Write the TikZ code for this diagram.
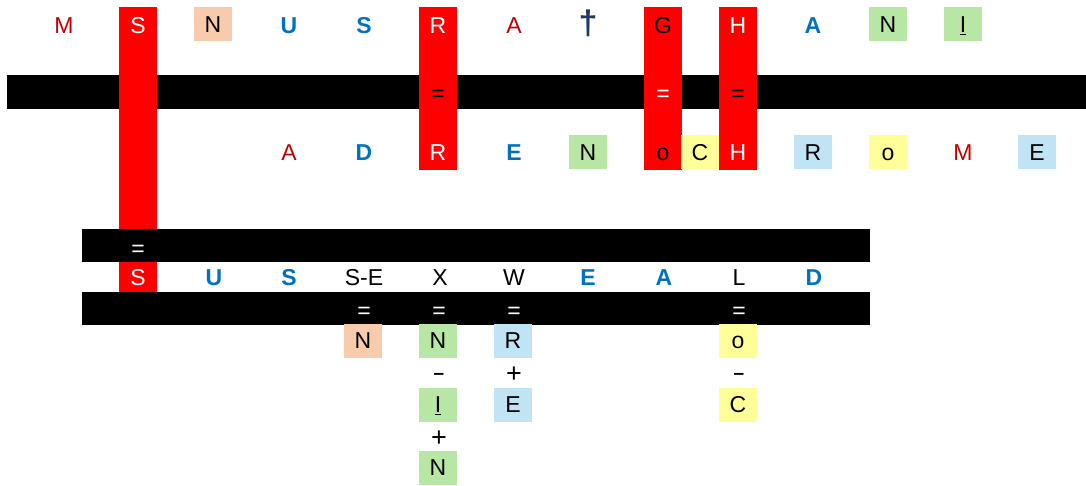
\documentclass[tikz,border=0pt]{standalone}
\usepackage{fontspec}
\setmainfont{Liberation Sans}
\definecolor{redcol}{HTML}{FF0000}
\definecolor{darkred}{HTML}{C00000}
\definecolor{blu}{HTML}{0070C0}
\definecolor{navy}{HTML}{1F3864}
\definecolor{salmon}{HTML}{F8CBAD}
\definecolor{lgreen}{HTML}{B8E6A4}
\definecolor{lblue}{HTML}{C0E4F4}
\definecolor{lyellow}{HTML}{FFFF99}
\begin{document}
\begin{tikzpicture}[x=1pt,y=-1pt,
  every node/.style={font=\fontsize{23}{28}\selectfont, inner sep=0pt, text height=16.5pt, text depth=0pt, anchor=center},
  cell/.style={minimum width=38pt, minimum height=34pt},
  salbox/.style={cell, fill=salmon},
  grbox/.style={cell, fill=lgreen},
  blbox/.style={cell, fill=lblue},
  yebox/.style={cell, fill=lyellow},
  rdtxt/.style={text=darkred},
  bltxt/.style={text=blu, font=\fontsize{23}{28}\selectfont\bfseries},
  wtxt/.style={text=white},
  bktxt/.style={text=black},
  minustxt/.style={text=black, font=\fontsize{19}{24}\selectfont\bfseries},
  plustxt/.style={text=black, font=\fontsize{27}{30}\selectfont},
  bar/.style={fill=black},
  redcolumn/.style={fill=redcol}
]
\useasboundingbox (0,0) rectangle (1086,486);
% bars and red columns
\fill[bar] (7,74.7) rectangle (1086,109.4);
\fill[redcolumn] (119,7.4) rectangle (157,292);
\fill[redcolumn] (419,7.4) rectangle (457,169.6);
\fill[redcolumn] (644,7.4) rectangle (682,169.6);
\fill[redcolumn] (719,7.4) rectangle (757,169.6);
\fill[bar] (82,229) rectangle (870,262);
\fill[bar] (82,292) rectangle (870,324.7);
% top row
\node[rdtxt] (t1) at (64,25) {M};
\node[wtxt] (t2) at (138,25) {S};
\node[salbox] (t3) at (213,24.5) {N};
\node[bltxt] (t4) at (289,25) {U};
\node[bltxt] (t5) at (364,25) {S};
\node[wtxt] (t6) at (438,25) {R};
\node[rdtxt] (t7) at (514,25) {A};
\node[text=navy, font=\fontsize{34}{38}\selectfont\bfseries] (t8) at (588,26) {†};
\node[bktxt] (t9) at (663,25) {G};
\node[wtxt] (t10) at (738,25) {H};
\node[bltxt] (t11) at (813,25) {A};
\node[grbox] (t12) at (888,24.5) {N};
\node[grbox] (t13) at (963,24.5) {\underline{I}};
% equals in bar 1
\node[bktxt] (e1) at (438,93) {=};
\node[wtxt] (e2) at (663,93) {=};
\node[bktxt] (e3) at (738,93) {=};
% middle row
\node[rdtxt] (m1) at (289,152.5) {A};
\node[bltxt] (m2) at (364,152.5) {D};
\node[wtxt] (m3) at (438,152.5) {R};
\node[bltxt] (m4) at (514,152.5) {E};
\node[grbox] (m5) at (588,152) {N};
\node[bktxt] (m6) at (663,152.5) {o};
\node[yebox] (m7) at (700,152) {C};
\node[wtxt] (m8) at (738,152.5) {H};
\node[blbox] (m9) at (813,152) {R};
\node[yebox] (m10) at (888,152) {o};
\node[rdtxt] (m11) at (963,152.5) {M};
\node[blbox] (m12) at (1037,152) {E};
% bar 2
\node[wtxt] (e4) at (138,248) {=};
% bottom row
\node[wtxt] (b1) at (138,277.5) {S};
\node[bltxt] (b2) at (214,277.5) {U};
\node[bltxt] (b3) at (289,277.5) {S};
\node[bktxt] (b4) at (364,277.5) {S-E};
\node[bktxt] (b5) at (440,277.5) {X};
\node[bktxt] (b6) at (514,277.5) {W};
\node[bltxt] (b7) at (588,277.5) {E};
\node[bltxt] (b8) at (664,277.5) {A};
\node[bktxt] (b9) at (739,277.5) {L};
\node[bltxt] (b10) at (814,277.5) {D};
% bar 3
\node[wtxt] (e5) at (364,310) {=};
\node[wtxt] (e6) at (439,310) {=};
\node[wtxt] (e7) at (514,310) {=};
\node[wtxt] (e8) at (739,310) {=};
% lower rows
\node[salbox] (l1) at (363,340.5) {N};
\node[grbox] (l2) at (438,340.5) {N};
\node[blbox] (l3) at (513,340.5) {R};
\node[yebox] (l4) at (738,340.5) {o};
\node[minustxt, text height=4pt] (s1) at (439,377.5) {–};
\node[plustxt] (s2) at (514,374.5) {+};
\node[minustxt, text height=4pt] (s3) at (739,377.5) {–};
\node[grbox] (l5) at (438,404.5) {\underline{I}};
\node[blbox] (l6) at (513,404.5) {E};
\node[yebox] (l7) at (738,404.5) {C};
\node[plustxt] (s4) at (439,438) {+};
\node[grbox] (l8) at (438,467.5) {N};
\end{tikzpicture}
\end{document}
